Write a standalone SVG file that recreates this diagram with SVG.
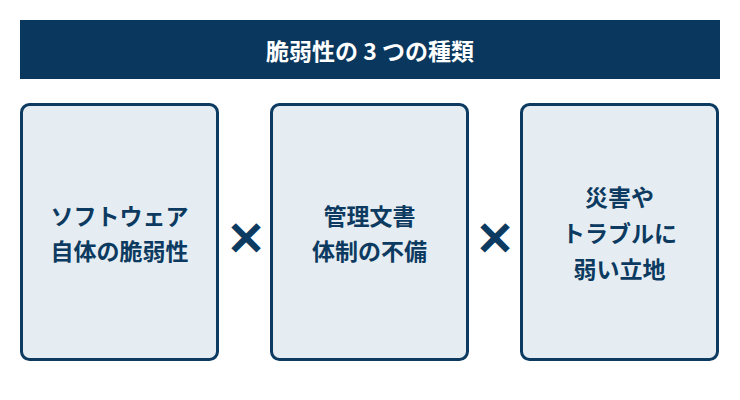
<svg xmlns="http://www.w3.org/2000/svg" width="740" height="400" viewBox="0 0 740 400">
<style>
.box{fill:#e6edf2;stroke:#0c3a60;stroke-width:3}
.t{font-family:"Noto Sans CJK JP","Noto Sans",sans-serif;font-weight:bold;font-size:23px;fill:#0c3a60;text-anchor:middle;dominant-baseline:central}
.title{font-family:"Noto Sans CJK JP","Noto Sans",sans-serif;font-weight:bold;font-size:23px;fill:#ffffff;text-anchor:middle;dominant-baseline:central}
.x{font-family:"Noto Sans CJK JP","Noto Sans",sans-serif;font-weight:bold;font-size:40px;fill:#0c3a60;stroke:#0c3a60;stroke-width:2.2;text-anchor:middle;dominant-baseline:central}
</style>
<rect width="740" height="400" fill="#ffffff"/>
<g id="title">
<rect x="20" y="20" width="700" height="59" fill="#0a375d"/>
<text class="title" x="370" y="49.5">脆弱性の 3 つの種類</text>
</g>
<g id="node1">
<rect class="box" x="21.5" y="104.5" width="196" height="255" rx="8"/>
<text class="t" x="119.5" y="215">ソフトウェア</text>
<text class="t" x="119.5" y="250">自体の脆弱性</text>
</g>
<g id="node2">
<rect class="box" x="271.5" y="104.5" width="196" height="255" rx="8"/>
<text class="t" x="369.5" y="215">管理文書</text>
<text class="t" x="369.5" y="250">体制の不備</text>
</g>
<g id="node3">
<rect class="box" x="521.5" y="104.5" width="196" height="255" rx="8"/>
<text class="t" x="619.5" y="196">災害や</text>
<text class="t" x="619.5" y="232">トラブルに</text>
<text class="t" x="619.5" y="268">弱い立地</text>
</g>
<g id="connectors">
<text class="x" x="246" y="236">×</text>
<text class="x" x="495" y="236">×</text>
</g>
</svg>
